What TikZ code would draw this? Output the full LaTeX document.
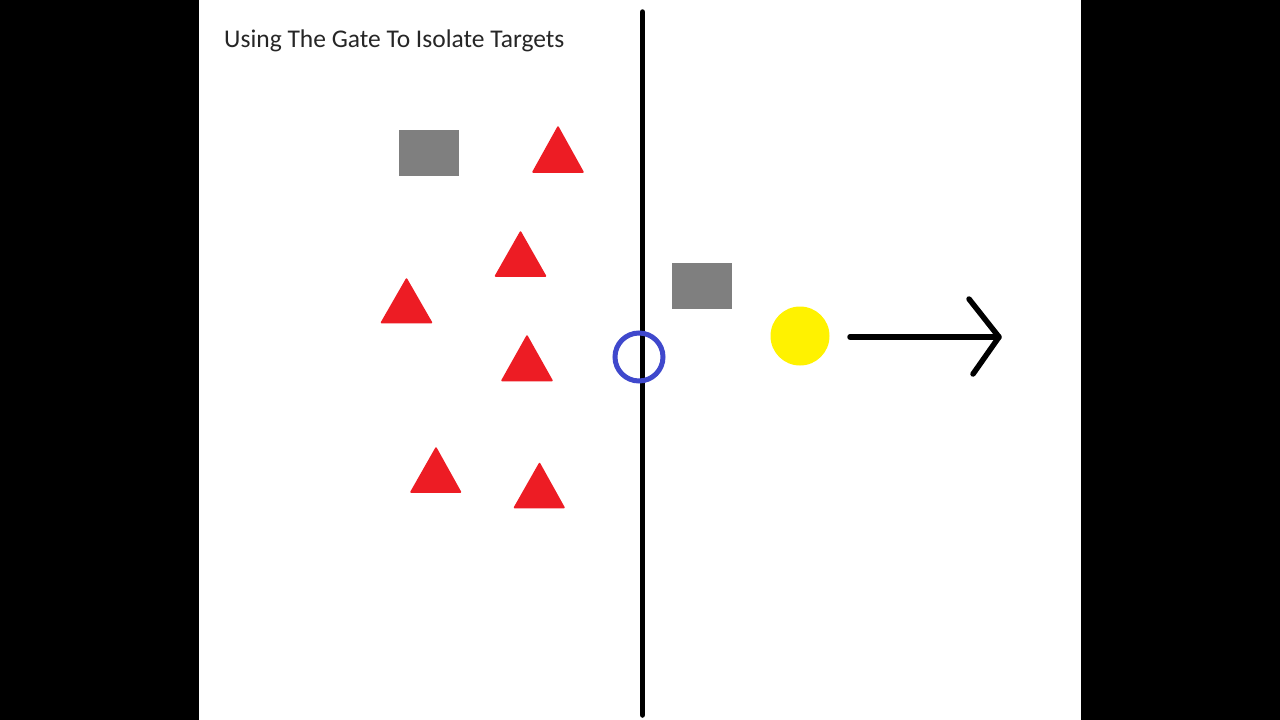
\documentclass[tikz,border=0pt]{standalone}
\usepackage{fontspec}
\setmainfont{Carlito}
\definecolor{tri}{HTML}{ED1C24}
\definecolor{box}{HTML}{7F7F7F}
\definecolor{ring}{HTML}{3F48CC}
\definecolor{ball}{HTML}{FFF200}
\begin{document}
\begin{tikzpicture}[x=1pt,y=-1pt,
  trishape/.style={fill=tri,draw=tri,line width=1.5pt,line join=round},
  boxshape/.style={fill=box},
  blk/.style={line width=5.5pt,line cap=round,line join=round}]
\useasboundingbox (0,0) rectangle (1280,720);
\fill[black] (0,0) rectangle (199,720);
\fill[black] (1081,0) rectangle (1280,720);
\fill[white] (199,0) rectangle (1081,720);
\node[anchor=base west,inner sep=0pt,font=\fontsize{25.5}{30}\selectfont,text=black!85] (title) at (224,47) {Using The Gate To Isolate Targets};
% gate line
\draw[blk] (642.5,12) -- (642.5,715);
% boxes
\fill[boxshape] (399,130) rectangle (459,176);
\fill[boxshape] (672,263) rectangle (732,309);
% triangles
\draw[trishape] (558,127) -- (583,172) -- (533,172) -- cycle;
\draw[trishape] (520.5,232) -- (545.5,276) -- (495.5,276) -- cycle;
\draw[trishape] (406.5,279) -- (431.5,322.5) -- (381.5,322.5) -- cycle;
\draw[trishape] (527,336) -- (552,380.5) -- (502,380.5) -- cycle;
\draw[trishape] (436,448) -- (460.5,492) -- (411,492) -- cycle;
\draw[trishape] (539.5,463.5) -- (564,507.5) -- (514.5,507.5) -- cycle;
% ring
\draw[ring,line width=5pt] (639,357) circle (24);
% ball
\fill[ball] (800,336) circle (29.5);
% arrow
\draw[blk] (850,337) -- (999,337);
\draw[blk] (969,299) -- (999,337) -- (973,374);
\end{tikzpicture}
\end{document}
